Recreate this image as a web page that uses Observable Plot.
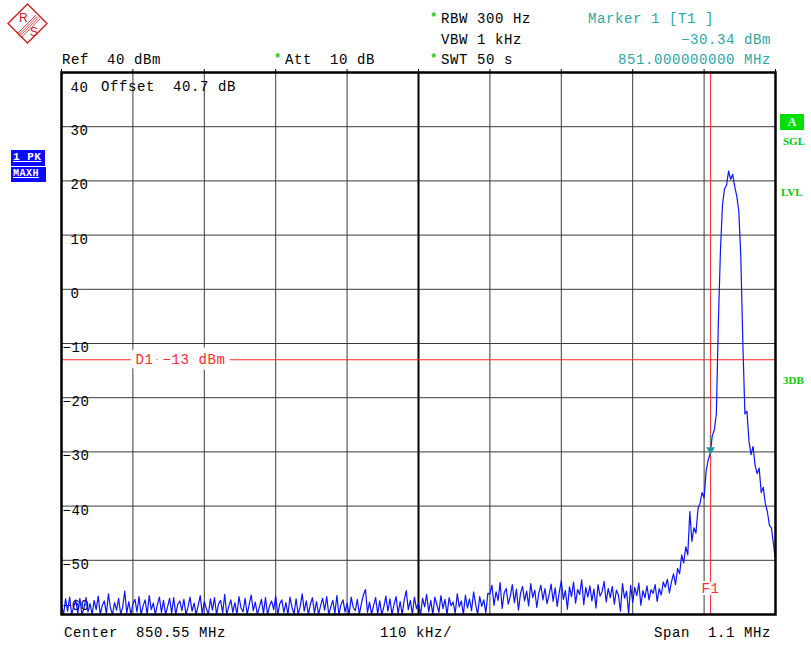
<!DOCTYPE html>
<html>
<head>
<meta charset="utf-8">
<script src="https://cdn.jsdelivr.net/npm/d3@7"></script>
<script src="https://cdn.jsdelivr.net/npm/@observablehq/plot@0.6"></script>
<style>
  body { margin: 0; background: #fff; }
  #wrap { position: relative; width: 811px; height: 645px; overflow: hidden; background: #fff;
          font-family: "Liberation Mono", "DejaVu Sans Mono", monospace; font-size: 14px; }
  #chart { position: absolute; left: 0; top: 0; }
  .t { position: absolute; white-space: pre; line-height: 14px; letter-spacing: 0.6px; color: #000; }
  .teal { color: #2aa8a8; }
  .star { color: #10cc10; font-weight: bold; font-size: 12px; }
  .r { text-align: right; }
  .bluebox { position: absolute; background: #0a0aff; color: #fff; font-size: 10px; font-weight: bold;
             line-height: 14px; padding-left: 2px; text-decoration: underline; white-space: pre; letter-spacing: 0.5px; }
  .grn { position: absolute; color: #00cc00; font-size: 11px; font-weight: bold; letter-spacing: 0px;
         font-family: "Liberation Serif", serif; }
</style>
</head>
<body>
<div id="wrap">
  <div id="chart"></div>

  <svg style="position:absolute;left:6px;top:2px" width="44" height="44" viewBox="0 0 44 44">
    <polygon points="21.5,2 41,21.5 21.5,41 2,21.5" fill="none" stroke="#d42020" stroke-width="1.4"/>
    <g stroke="#d42020" stroke-width="0.8">
      <line x1="12.3" y1="33.3" x2="31.3" y2="14.3"/>
      <line x1="13.6" y1="34.6" x2="32.6" y2="15.6"/>
      <line x1="14.9" y1="35.9" x2="33.9" y2="16.9"/>
      <line x1="11.0" y1="32.0" x2="30.0" y2="13.0"/>
    </g>
    <text x="13" y="20" fill="#d42020" font-family="Liberation Sans, sans-serif" font-size="12">R</text>
    <text x="24" y="34" fill="#d42020" font-family="Liberation Sans, sans-serif" font-size="12">S</text>
  </svg>

  <div class="t star" style="left:430px;top:11px;">*</div>
  <div class="t" style="left:441px;top:12px;">RBW 300 Hz</div>
  <div class="t" style="left:441px;top:33px;">VBW 1 kHz</div>
  <div class="t star" style="left:430px;top:52px;">*</div>
  <div class="t" style="left:441px;top:53px;">SWT 50 s</div>

  <div class="t teal" style="left:588px;top:12px;">Marker 1 [T1 ]</div>
  <div class="t teal r" style="right:40px;top:33px;">−30.34 dBm</div>
  <div class="t teal r" style="right:40px;top:53px;">851.000000000 MHz</div>

  <div class="t" style="left:62px;top:53px;">Ref  40 dBm</div>
  <div class="t star" style="left:274px;top:52px;">*</div>
  <div class="t" style="left:285px;top:53px;">Att  10 dB</div>

  <div class="t" style="left:101px;top:80px;">Offset  40.7 dB</div>

  <div class="t" style="left:64px;top:626px;">Center  850.55 MHz</div>
  <div class="t" style="left:380px;top:626px;">110 kHz/</div>
  <div class="t r" style="right:40px;top:626px;">Span  1.1 MHz</div>

  <div class="bluebox" style="left:11px;top:150px;width:32px;height:16px;font-size:11px;">1 PK</div>
  <div class="bluebox" style="left:11px;top:167px;width:33px;height:15px;">MAXH</div>

  <div style="position:absolute;left:780px;top:114px;width:24px;height:16px;background:#00e000;color:#fff;font-size:12px;line-height:16px;text-align:center;font-family:'Liberation Serif',serif;font-weight:bold;">A</div>
  <div class="grn" style="left:783px;top:135px;">SGL</div>
  <div class="grn" style="left:781px;top:186px;">LVL</div>
  <div class="grn" style="left:783px;top:374px;">3DB</div>
</div>

<script>
// ---- axis / settings ----
const centerMHz = 850.55;
const spanMHz = 1.1;
const xTicks = [850.00, 850.11, 850.22, 850.33, 850.44, 850.55, 850.66, 850.77, 850.88, 850.99, 851.10];
const yTicks = [-60, -50, -40, -30, -20, -10, 0, 10, 20, 30, 40];
const refLevel = 40;
const bottomLevel = -60;
const d1Level = -13;
const d1Label = "D1 −13 dBm";
const f1MHz = 851.0;
const f1Label = "F1";
const markerFreq = 851.0;
const markerLevel = -30.34;

// ---- trace (dBm), 351 sweep points ----
const noiseLeft = [
  -58.2, -60, -57.1, -59.4, -56.8, -60, -58.5, -57.3, -59.8, -57.0,
  -60, -58.9, -56.9, -59.5, -58.0, -60, -57.4, -59.1, -56.6, -60,
  -58.3, -57.5, -59.9, -56.2, -58.8, -60, -57.8, -59.2, -57.0, -60,
  -58.6, -55.7, -59.7, -57.6, -60, -58.1, -57.2, -59.5, -56.7, -60,
  -58.4, -57.3, -60, -56.5, -59.1, -57.9, -60, -58.2, -56.8, -59.6,
  -57.4, -60, -58.6, -57.0, -59.8, -56.9, -60, -58.1, -57.5, -59.3,
  -57.2, -60, -58.7, -56.8, -59.4, -57.9, -60, -58.3, -56.5, -59.9,
  -57.6, -58.9, -60, -57.1, -59.2, -56.9, -60, -58.0, -57.4, -59.7,
  -56.3, -60, -58.5, -57.3, -59.6, -57.8, -60, -56.7, -58.8, -59.5,
  -57.0, -60, -58.2, -56.4, -59.3, -57.7, -60, -58.6, -57.2, -59.8,
  -56.9, -60, -58.4, -57.5, -59.1, -56.6, -60, -58.0, -57.3, -59.6,
  -57.8, -60, -56.8, -58.7, -59.9, -57.1, -60, -58.5, -56.2, -59.4
];
const noiseMid = [
  -57.5, -60, -58.1, -56.9, -59.7, -57.6, -60, -58.4, -57.0, -59.2,
  -56.7, -60, -58.6, -57.4, -59.8, -56.5, -60, -58.2, -57.3, -59.5,
  -57.9, -60, -56.8, -58.7, -59.3, -57.2, -60, -58.0, -56.4, -55.4,
  -59.6, -57.7, -60, -58.3, -56.9, -59.9, -57.5, -60, -58.6, -56.6,
  -59.4, -57.1, -60, -58.2, -56.7, -59.8, -57.6, -60, -57.3, -55.6,
  -59.1, -57.4, -60, -56.8, -58.9, -57.9,
  -60, -57.0, -58.6, -56.3, -59.5, -57.4, -60, -56.8, -58.2, -59.6,
  -56.5, -58.9, -57.2, -60, -56.9, -58.4, -57.7, -59.8, -56.2, -58.6,
  -57.5, -60, -56.4, -58.8, -57.1, -59.3, -55.8, -58.1, -60, -56.7,
  -58.5, -57.3, -59.7, -56.1
];
const noiseRight = [
  -56.2, -54.6, -58.3, -55.8, -57.4, -54.1, -58.9, -56.0, -55.2, -58.1,
  -56.6, -54.5, -57.8, -55.3, -59.2, -56.1, -54.8, -57.5, -55.7, -58.4,
  -54.3, -56.9, -55.5, -58.7, -56.0, -54.6, -57.3, -55.2, -58.0, -56.4,
  -54.4, -57.6, -55.1, -58.5, -55.9, -53.8, -57.2, -55.6, -59.0, -54.9,
  -56.7, -54.0, -57.9, -55.4, -56.3, -53.6, -58.2, -55.0, -56.8, -54.7,
  -57.5, -55.3, -58.8, -54.5, -56.6, -55.8, -53.9, -57.7, -55.2, -56.9,
  -54.8, -58.1, -55.5, -56.4, -59.4, -54.3, -57.0, -55.7, -59.8, -54.6,
  -57.8, -55.0, -56.5, -54.2, -58.3, -55.6, -56.9, -54.7, -57.3, -55.4,
  -56.1, -54.5, -57.6, -55.2, -56.4, -54.0
];
const carrier = [
  -55.0, -53.5, -56.0, -54.0, -52.5, -54.5, -51.5, -52.5, -49.0, -50.5,
  -47.5, -49.0, -41.0, -46.5, -44.0, -45.0, -40.5, -39.5, -37.5, -38.5,
  -33.5, -31.5, -30.3, -27.0, -26.0, -23.0, -6.0, 7.0, 15.5, 18.5,
  19.2, 21.8, 20.3, 21.2, 19.0, 17.2, 14.5, 6.0, -10.0, -23.0,
  -22.5, -28.0, -30.5, -29.0, -32.5, -34.0, -33.0, -37.5, -36.5, -39.5,
  -41.0, -43.5, -44.0, -47.0, -50.0
];

const traceDbm = [...noiseLeft, ...noiseMid, ...noiseRight, ...carrier];
const startMHz = centerMHz - spanMHz / 2;
const stopMHz = centerMHz + spanMHz / 2;
const trace = traceDbm.map((v, i) => ({ f: startMHz + i * spanMHz / (traceDbm.length - 1), v }));

const fmt = v => (v < 0 ? "−" + Math.abs(v) : String(v));
const FONT = "Liberation Mono, DejaVu Sans Mono, monospace";
const RED = "#ff2a2a";
const GRID = "#3a3a3a";

const chart = Plot.plot({
  width: 811,
  height: 645,
  marginTop: 72,
  marginBottom: 31,
  marginLeft: 61,
  marginRight: 36,
  x: { domain: [startMHz, stopMHz], axis: null },
  y: { domain: [bottomLevel, refLevel], axis: null },
  style: { background: "white", fontFamily: FONT, fontSize: "14px", letterSpacing: "0.6px", overflow: "visible" },
  marks: [
    Plot.ruleX(xTicks, { x: d => d, stroke: GRID, strokeWidth: 1 }),
    Plot.ruleY(yTicks, { y: d => d, stroke: GRID, strokeWidth: 1 }),
    Plot.ruleX([centerMHz], { x: d => d, stroke: "#000", strokeWidth: 2 }),
    Plot.axisX(xTicks, { anchor: "top", tickSize: 4, tickFormat: () => "", label: null, stroke: "#000" }),
    Plot.text(yTicks.filter(v => v >= 0 && v < refLevel), {
      y: d => d, text: fmt, frameAnchor: "left", dx: 9, dy: 4, textAnchor: "start",
      fontFamily: FONT, fontSize: 14, fill: "#000"
    }),
    Plot.text(yTicks.filter(v => v < 0 && v > bottomLevel), {
      y: d => d, text: fmt, frameAnchor: "left", dx: 1, dy: 4, textAnchor: "start",
      fontFamily: FONT, fontSize: 14, fill: "#000"
    }),
    Plot.text([refLevel], {
      y: d => d, text: fmt, frameAnchor: "left", dx: 9, dy: 15, textAnchor: "start",
      fontFamily: FONT, fontSize: 14, fill: "#000"
    }),
    Plot.text([bottomLevel], {
      y: d => d, text: fmt, frameAnchor: "left", dx: 1, dy: -9, textAnchor: "start",
      fontFamily: FONT, fontSize: 14, fill: "#000"
    }),
    Plot.ruleY([d1Level], { y: d => d, stroke: RED, strokeWidth: 1 }),
    Plot.ruleX([f1MHz], { x: d => d, stroke: RED, strokeWidth: 1 }),
    Plot.text([d1Label], {
      y: () => d1Level, text: d => d, frameAnchor: "left", dx: 74, textAnchor: "start",
      fill: "white", stroke: "white", strokeWidth: 11, fontFamily: FONT, fontSize: 14
    }),
    Plot.text([d1Label], {
      y: () => d1Level, text: d => d, frameAnchor: "left", dx: 74, textAnchor: "start",
      fill: RED, fontFamily: FONT, fontSize: 14
    }),
    Plot.text([f1Label], {
      x: () => f1MHz, text: d => d, frameAnchor: "bottom", dy: -22, textAnchor: "middle",
      fill: RED, stroke: "white", strokeWidth: 4, fontFamily: FONT, fontSize: 14
    }),
    Plot.line(trace, { x: "f", y: "v", stroke: "#0a14ff", strokeWidth: 1.2, clip: true }),
    Plot.dot([markerLevel], {
      x: () => markerFreq, y: d => d, symbol: "triangle", rotate: 180, r: 3.2,
      fill: "#1a9a9a", stroke: "none", dy: -4
    }),
    Plot.text(["1"], {
      x: () => markerFreq, y: () => markerLevel, text: d => d, dy: -15,
      fill: "#1a9a9a", fontFamily: "Liberation Serif, serif", fontSize: 10
    }),
    Plot.frame({ stroke: "#000", strokeWidth: 2.5 })
  ]
});
document.getElementById("chart").appendChild(chart);
</script>
</body>
</html>
